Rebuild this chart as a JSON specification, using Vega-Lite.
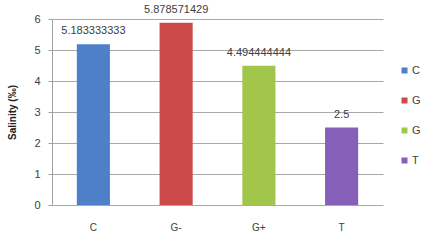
{
  "$schema": "https://vega.github.io/schema/vega-lite/v6.json",
  "width": 331,
  "height": 186,
  "autosize": {"type": "none"},
  "padding": {"left": 52, "top": 19, "right": 39, "bottom": 35},
  "background": "white",
  "config": {
    "view": {"stroke": null},
    "font": "Liberation Sans Narrow, Liberation Sans, sans-serif"
  },
  "data": {
    "values": [
      {"group": "C", "salinity": 5.183333333, "label": "5.183333333"},
      {"group": "G-", "salinity": 5.878571429, "label": "5.878571429"},
      {"group": "G+", "salinity": 4.494444444, "label": "4.494444444"},
      {"group": "T", "salinity": 2.5, "label": "2.5"}
    ]
  },
  "encoding": {
    "x": {
      "field": "group",
      "type": "nominal",
      "sort": ["C", "G-", "G+", "T"],
      "scale": {"paddingInner": 0.6, "paddingOuter": 0.3},
      "axis": {
        "title": null,
        "labelAngle": 0,
        "domain": false,
        "ticks": false,
        "labelPadding": 17,
        "labelFontSize": 10,
        "labelColor": "#404040"
      }
    },
    "y": {
      "field": "salinity",
      "type": "quantitative",
      "scale": {"domain": [0, 6]},
      "axis": {
        "title": "Salinity (‰)",
        "titleFontSize": 10,
        "titleFontWeight": "bold",
        "titleColor": "#202020",
        "titlePadding": 16,
        "values": [0, 1, 2, 3, 4, 5, 6],
        "labelFontSize": 11,
        "labelColor": "#404040",
        "labelPadding": 8,
        "tickSize": 4,
        "tickColor": "#a0a0a0",
        "domainColor": "#a0a0a0",
        "gridColor": "#a8a8a8",
        "gridWidth": 1
      }
    }
  },
  "layer": [
    {
      "mark": {"type": "bar"},
      "encoding": {
        "color": {
          "field": "group",
          "type": "nominal",
          "sort": ["C", "G-", "G+", "T"],
          "scale": {"range": ["#4d80c8", "#cc4a48", "#a2c64c", "#8660b8"]},
          "legend": {
            "title": null,
            "orient": "none",
            "legendX": 347,
            "legendY": 46,
            "symbolType": "square",
            "symbolSize": 36,
            "symbolStrokeWidth": 0,
            "labelFontSize": 11,
            "labelColor": "#404040",
            "rowPadding": 18,
            "labelOffset": 2,
            "labelExpr": "substring(datum.label, 0, 1)"
          }
        }
      }
    },
    {
      "mark": {"type": "text", "baseline": "bottom", "dy": -8, "fontSize": 11, "color": "#404040"},
      "encoding": {"text": {"field": "label"}}
    }
  ]
}
